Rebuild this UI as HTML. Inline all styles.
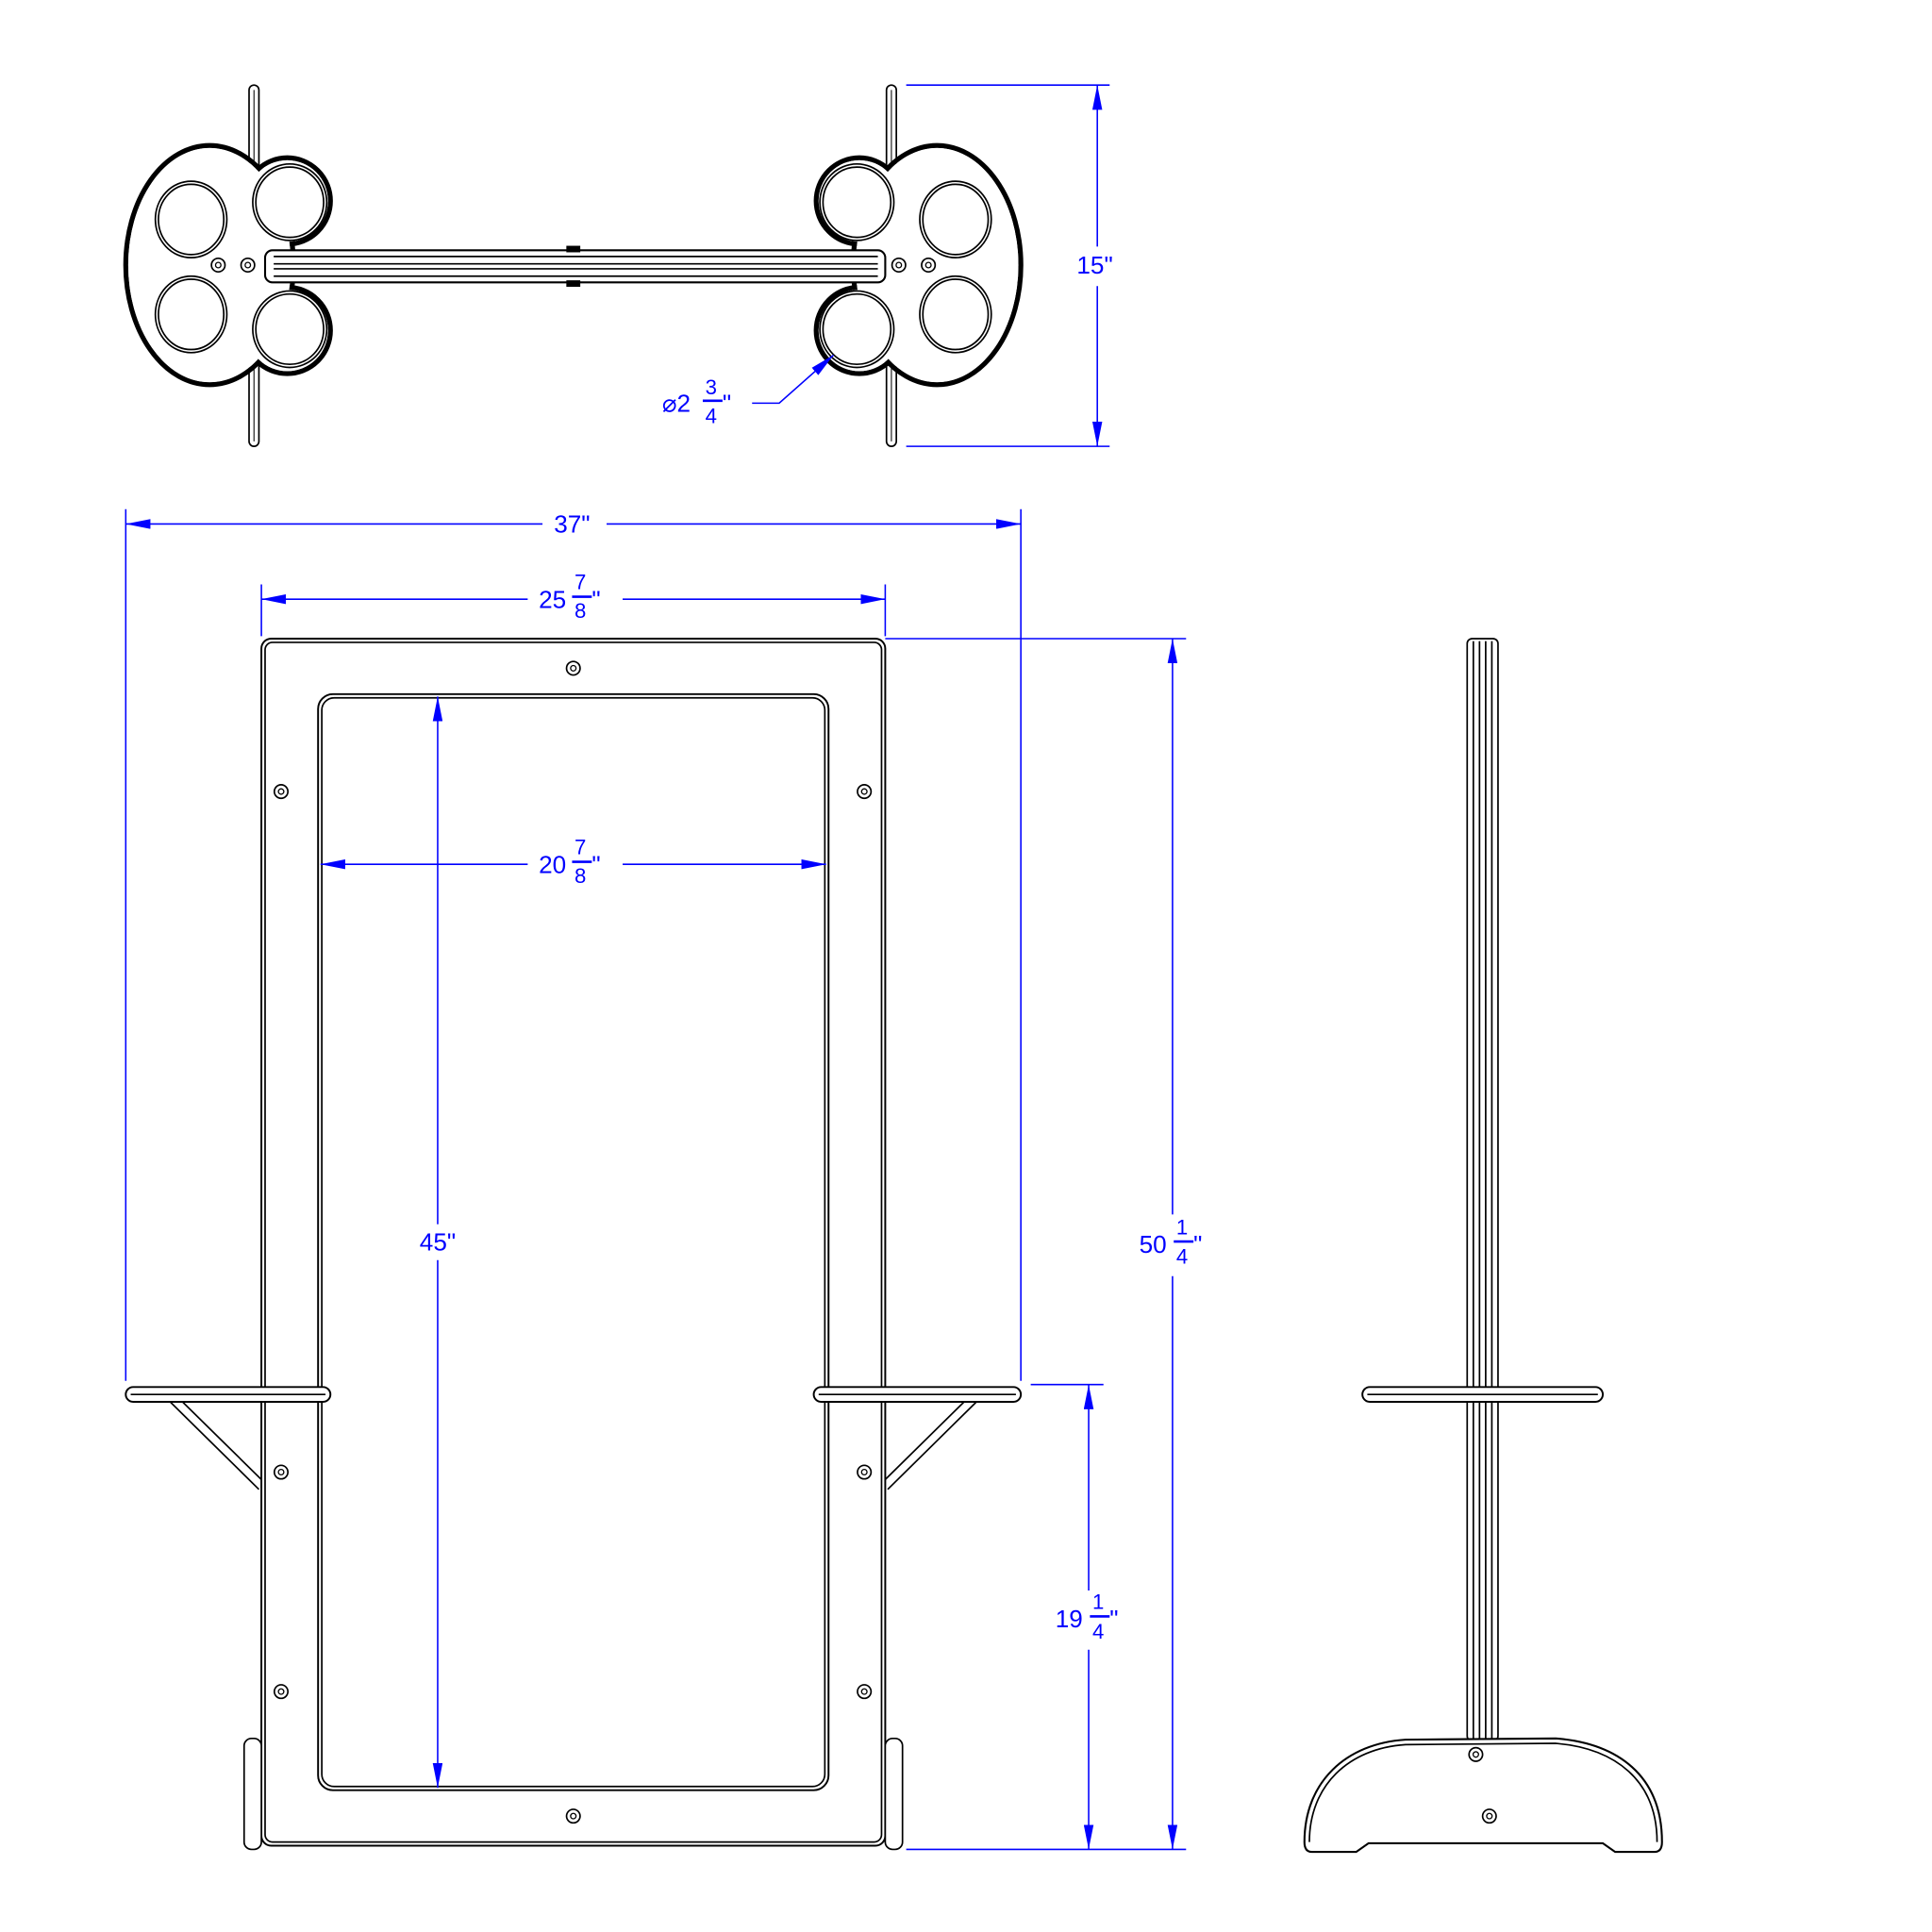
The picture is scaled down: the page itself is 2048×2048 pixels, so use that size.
<!DOCTYPE html>
<html><head><meta charset="utf-8"><style>
html,body{margin:0;padding:0;background:#fff}
svg{display:block}
text{font-family:"Liberation Sans",sans-serif;fill:#0000ff}
</style></head><body>
<svg width="2048" height="2048" viewBox="0 0 1567 1567" xmlns="http://www.w3.org/2000/svg">
<defs>
<marker id="a" viewBox="0 0 20 8" refX="20" refY="4" markerWidth="20" markerHeight="8" orient="auto-start-reverse" markerUnits="userSpaceOnUse"><path d="M0,0 L20,4 L0,8 Z" fill="#0000ff"/></marker>
<g id="bolt"><circle r="5.5" fill="#fff" stroke="#000" stroke-width="1.3"/><circle r="2.2" fill="none" stroke="#000" stroke-width="1"/></g>
</defs>
<g fill="none" stroke="#000" stroke-width="1.3">
<rect x="202" y="69" width="8" height="293" rx="4" fill="#fff"/>
<rect x="719" y="69" width="8" height="293" rx="4" fill="#fff"/>
<line x1="206" y1="73" x2="206" y2="358" stroke-width="0.8"/>
<line x1="723" y1="73" x2="723" y2="358" stroke-width="0.8"/>
<g stroke-width="4">
<ellipse cx="170" cy="215" rx="68" ry="97"/><circle cx="233" cy="163" r="35"/><circle cx="233" cy="268" r="35"/>
</g>
<g fill="#fff" stroke="none">
<ellipse cx="170" cy="215" rx="66" ry="95"/><circle cx="233" cy="163" r="33"/><circle cx="233" cy="268" r="33"/>
</g>
<g stroke-width="4">
<ellipse cx="760" cy="215" rx="68" ry="97"/><circle cx="697" cy="163" r="35"/><circle cx="697" cy="268" r="35"/>
</g>
<g fill="#fff" stroke="none">
<ellipse cx="760" cy="215" rx="66" ry="95"/><circle cx="697" cy="163" r="33"/><circle cx="697" cy="268" r="33"/>
</g>
<g stroke-width="1.3">
<ellipse cx="155" cy="178" rx="29" ry="31"/><ellipse cx="155" cy="178" rx="26.5" ry="28.5"/>
<ellipse cx="155" cy="255" rx="29" ry="31"/><ellipse cx="155" cy="255" rx="26.5" ry="28.5"/>
<ellipse cx="235" cy="164" rx="30" ry="31"/><ellipse cx="235" cy="164" rx="27.5" ry="28.5"/>
<ellipse cx="235" cy="267" rx="30" ry="31"/><ellipse cx="235" cy="267" rx="27.5" ry="28.5"/>
<ellipse cx="775" cy="178" rx="29" ry="31"/><ellipse cx="775" cy="178" rx="26.5" ry="28.5"/>
<ellipse cx="775" cy="255" rx="29" ry="31"/><ellipse cx="775" cy="255" rx="26.5" ry="28.5"/>
<ellipse cx="695" cy="164" rx="30" ry="31"/><ellipse cx="695" cy="164" rx="27.5" ry="28.5"/>
<ellipse cx="695" cy="267" rx="30" ry="31"/><ellipse cx="695" cy="267" rx="27.5" ry="28.5"/>
</g>
<rect x="215" y="203" width="503" height="26" rx="6" fill="#fff" stroke-width="1.6"/>
<line x1="222" y1="208" x2="712" y2="208"/><line x1="222" y1="214" x2="712" y2="214"/>
<line x1="222" y1="218" x2="712" y2="218"/><line x1="222" y1="224" x2="712" y2="224"/>
<rect x="460" y="200" width="10" height="4" fill="#000"/><rect x="460" y="228" width="10" height="4" fill="#000"/>
<use href="#bolt" x="177" y="215"/><use href="#bolt" x="201" y="215"/>
<use href="#bolt" x="729" y="215"/><use href="#bolt" x="753" y="215"/>

<rect x="212" y="518" width="506" height="979" rx="8" fill="#fff" stroke-width="1.5"/>
<rect x="215" y="521" width="500" height="973" rx="6"/>
<rect x="258" y="563" width="414" height="889" rx="12" stroke-width="1.5"/>
<rect x="261" y="566" width="408" height="883" rx="10"/>
<use href="#bolt" x="465" y="542"/><use href="#bolt" x="228" y="642"/><use href="#bolt" x="701" y="642"/>
<use href="#bolt" x="228" y="1194"/><use href="#bolt" x="701" y="1194"/>
<use href="#bolt" x="228" y="1372"/><use href="#bolt" x="701" y="1372"/><use href="#bolt" x="465" y="1473"/>
<rect x="102" y="1125" width="166" height="12" rx="6" fill="#fff" stroke-width="1.5"/>
<line x1="106" y1="1131" x2="264" y2="1131"/>
<rect x="660" y="1125" width="168" height="12" rx="6" fill="#fff" stroke-width="1.5"/>
<line x1="664" y1="1131" x2="824" y2="1131"/>
<line x1="138" y1="1137" x2="210" y2="1208"/><line x1="148" y1="1137" x2="212" y2="1200"/>
<line x1="792" y1="1137" x2="720" y2="1208"/><line x1="782" y1="1137" x2="718" y2="1200"/>
<rect x="198" y="1410" width="14" height="90" rx="6" fill="#fff"/>
<rect x="718" y="1410" width="14" height="90" rx="6" fill="#fff"/>

<rect x="1190" y="518" width="25" height="894" rx="4" fill="#fff"/>
<line x1="1195" y1="520" x2="1195" y2="1410"/><line x1="1200" y1="520" x2="1200" y2="1410"/>
<line x1="1205" y1="520" x2="1205" y2="1410"/><line x1="1210" y1="520" x2="1210" y2="1410"/>
<rect x="1105" y="1125" width="195" height="12" rx="6" fill="#fff" stroke-width="1.5"/>
<line x1="1109" y1="1131" x2="1296" y2="1131"/>
<path d="M1064,1502 L1100,1502 L1110,1495 L1300,1495 L1310,1502 L1342,1502 Q1348,1502 1348,1494 C1348,1440 1312,1414 1262,1410 L1140,1411 C1092,1414 1058,1445 1058,1494 Q1058,1502 1064,1502 Z" fill="#fff" stroke-width="1.6"/>
<path d="M1062,1494 C1062,1448 1094,1418 1140,1415 L1262,1414 C1310,1418 1344,1444 1344,1494"/>
<use href="#bolt" x="1197" y="1423"/><use href="#bolt" x="1208" y="1473"/>
</g>

<g stroke="#0000ff" stroke-width="1.2" fill="none">
<line x1="735" y1="69" x2="900" y2="69"/><line x1="735" y1="362" x2="900" y2="362"/>
<line x1="890" y1="200" x2="890" y2="69" marker-end="url(#a)"/><line x1="890" y1="232" x2="890" y2="362" marker-end="url(#a)"/>
<path d="M610,327 L632,327 L676,288" marker-end="url(#a)"/>
<line x1="102" y1="413" x2="102" y2="1120"/><line x1="828" y1="413" x2="828" y2="1120"/>
<line x1="440" y1="425" x2="102" y2="425" marker-end="url(#a)"/><line x1="492" y1="425" x2="828" y2="425" marker-end="url(#a)"/>
<line x1="212" y1="474" x2="212" y2="516"/><line x1="718" y1="474" x2="718" y2="516"/>
<line x1="428" y1="486" x2="212" y2="486" marker-end="url(#a)"/><line x1="505" y1="486" x2="718" y2="486" marker-end="url(#a)"/>
<line x1="428" y1="701" x2="260" y2="701" marker-end="url(#a)"/><line x1="505" y1="701" x2="670" y2="701" marker-end="url(#a)"/>
<line x1="355" y1="993" x2="355" y2="565" marker-end="url(#a)"/><line x1="355" y1="1022" x2="355" y2="1450" marker-end="url(#a)"/>
<line x1="718" y1="518" x2="962" y2="518"/><line x1="735" y1="1500" x2="962" y2="1500"/>
<line x1="951" y1="985" x2="951" y2="518" marker-end="url(#a)"/><line x1="951" y1="1035" x2="951" y2="1500" marker-end="url(#a)"/>
<line x1="836" y1="1123" x2="895" y2="1123"/>
<line x1="883" y1="1290" x2="883" y2="1123" marker-end="url(#a)"/><line x1="883" y1="1338" x2="883" y2="1500" marker-end="url(#a)"/>
</g>
<g font-size="20">
<text x="888" y="222" text-anchor="middle">15"</text>
<text x="464" y="432" text-anchor="middle">37"</text>
<text x="355" y="1014" text-anchor="middle">45"</text>
<text x="537" y="334">⌀2</text><text x="572" y="320" font-size="17">3</text><text x="572" y="343" font-size="17">4</text><text x="586" y="334">"</text>
<line x1="570" y1="325" x2="586" y2="325" stroke="#0000ff" stroke-width="2"/>
<text x="437" y="493">25</text><text x="466" y="478" font-size="17">7</text><text x="466" y="501" font-size="17">8</text><text x="480" y="493">"</text>
<line x1="464" y1="484" x2="480" y2="484" stroke="#0000ff" stroke-width="2"/>
<text x="437" y="708">20</text><text x="466" y="693" font-size="17">7</text><text x="466" y="716" font-size="17">8</text><text x="480" y="708">"</text>
<line x1="464" y1="699" x2="480" y2="699" stroke="#0000ff" stroke-width="2"/>
<text x="924" y="1016">50</text><text x="954" y="1001" font-size="17">1</text><text x="954" y="1025" font-size="17">4</text><text x="968" y="1016">"</text>
<line x1="952" y1="1007" x2="968" y2="1007" stroke="#0000ff" stroke-width="2"/>
<text x="856" y="1320">19</text><text x="886" y="1305" font-size="17">1</text><text x="886" y="1329" font-size="17">4</text><text x="900" y="1320">"</text>
<line x1="884" y1="1311" x2="900" y2="1311" stroke="#0000ff" stroke-width="2"/>
</g>
</svg>
</body></html>
